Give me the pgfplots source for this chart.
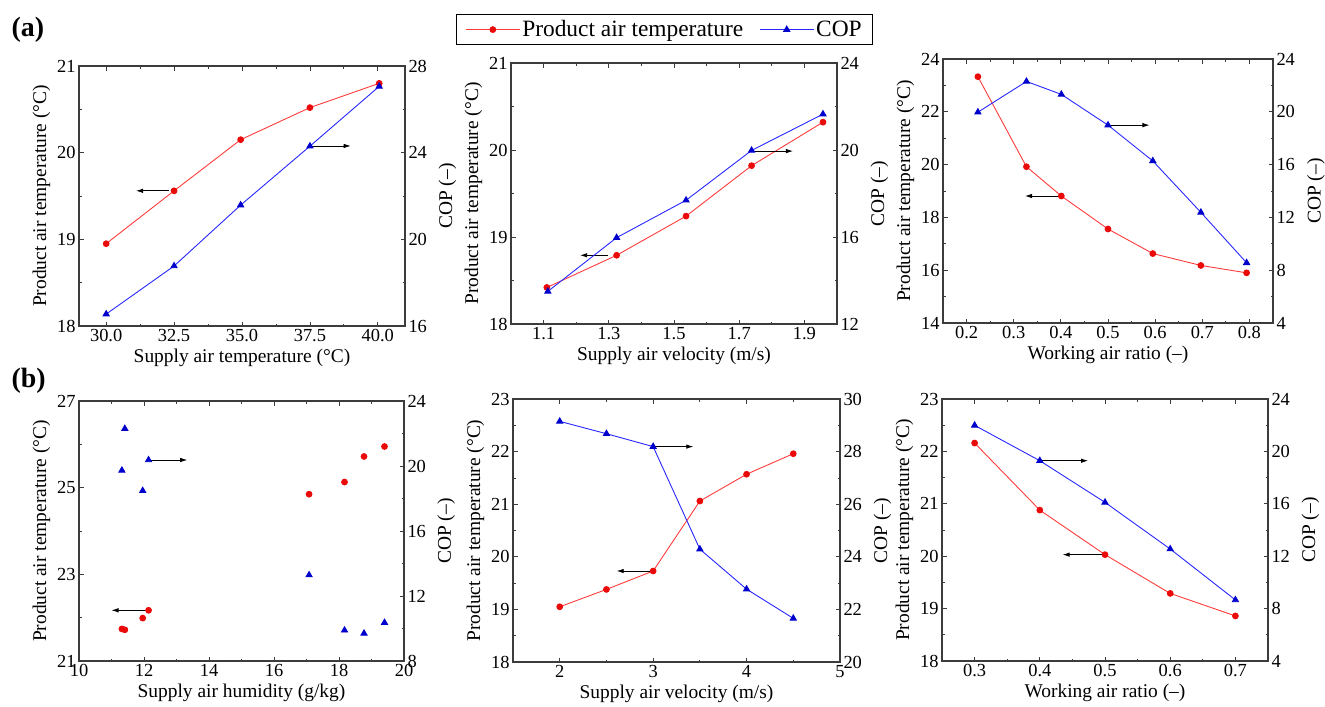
\documentclass[border=0pt]{standalone}
\usepackage{fontspec}
\setmainfont{Liberation Serif}
\usepackage{pgfplots}
\pgfplotsset{compat=1.18}
\usetikzlibrary{arrows.meta}
\definecolor{rline}{RGB}{255,60,60}
\definecolor{rmark}{RGB}{235,10,10}
\definecolor{bline}{RGB}{40,40,255}
\definecolor{bmark}{RGB}{0,0,205}
\definecolor{frame}{RGB}{60,60,60}
\tikzset{arr/.style={-{Latex[length=7bp,width=4.5bp]}, black, line width=0.8bp}}
\pgfplotsset{
 base/.style={scale only axis, clip=false,
   axis line style={line width=1.2bp, frame},
   tick style={frame, line width=0.8bp},
   major tick length=4.5bp, minor tick length=2.5bp, tick align=inside,
   tick label style={font=\fontsize{18.5}{20}\selectfont},
   label style={font=\fontsize{19.5}{21}\selectfont},
   /pgf/number format/assume math mode=true,
   minor x tick num=1, minor y tick num=1},
 lefty/.style={base, ytick pos=left, ylabel={Product air temperature (°C)}},
 righty/.style={base, xtick=\empty, minor x tick num=0, ytick pos=right, yticklabel pos=right, ylabel={COP (–)},
   every axis y label/.append style={at={(axis description cs:1.13,0.5)}, anchor=center, rotate=0}},
 tempplot/.style={color=rline, line width=0.9bp, mark=*, mark size=2.9bp, mark options={fill=rmark, draw=rmark, solid}},
 copplot/.style={color=bline, line width=0.9bp, mark=triangle*, mark size=3.5bp, mark options={fill=bmark, draw=bmark, solid}},
}
\begin{document}
\begin{tikzpicture}
\useasboundingbox (0,0) rectangle (1325bp,-707bp);
\node[anchor=west, font=\bfseries\fontsize{28}{30}\selectfont] at (8bp,-30bp) {(a)};
\node[anchor=west, font=\bfseries\fontsize{28}{30}\selectfont] at (8bp,-381bp) {(b)};

% ---------- a1 ----------
\begin{axis}[lefty, at={(79bp,-326bp)}, anchor=south west, width=326bp, height=260bp,
  xmin=29, xmax=41, xtick={30,32.5,35,37.5,40},
  xticklabel style={/pgf/number format/.cd, fixed, fixed zerofill, precision=1},
  ymin=18, ymax=21, ytick={18,19,20,21},
  xlabel={Supply air temperature (°C)}]
\addplot[tempplot] coordinates {(30,18.95) (32.5,19.56) (34.95,20.15) (37.5,20.52) (40.05,20.80)};
\draw[arr] (axis cs:32.3,19.56) -- (axis cs:31.1,19.56);
\end{axis}
\begin{axis}[righty, at={(79bp,-326bp)}, anchor=south west, width=326bp, height=260bp,
  xmin=29, xmax=41, ymin=16, ymax=28, ytick={16,20,24,28}]
\addplot[copplot] coordinates {(30,16.55) (32.5,18.77) (34.95,21.58) (37.5,24.30) (40.05,27.06)};
\draw[arr] (axis cs:37.5,24.31) -- (axis cs:39.0,24.31);
\end{axis}

% ---------- a2 ----------
\begin{axis}[lefty, at={(511bp,-324bp)}, anchor=south west, width=326bp, height=261bp,
  xmin=1, xmax=2, xtick={1.1,1.3,1.5,1.7,1.9},
  ymin=18, ymax=21, ytick={18,19,20,21},
  xlabel={Supply air velocity (m/s)},
  legend style={at={(0.471,1.128)}, anchor=center, legend columns=2, draw=black, line width=1.1bp,
    font=\fontsize{23.5}{25}\selectfont, inner xsep=9bp, inner ysep=4bp,
    /tikz/every even column/.append style={column sep=14bp}},
  legend image code/.code={\draw[mark repeat=2,mark phase=2,#1] plot coordinates {(0bp,0bp) (27bp,0bp) (54bp,0bp)};}]
\addlegendimage{tempplot}
\addlegendentry{Product air temperature}
\addlegendimage{copplot}
\addlegendentry{COP}
\addplot[tempplot, forget plot] coordinates {(1.11,18.42) (1.324,18.79) (1.537,19.24) (1.738,19.82) (1.957,20.32)};
\draw[arr] (axis cs:1.299,18.79) -- (axis cs:1.212,18.79);
\end{axis}
\begin{axis}[righty, at={(511bp,-324bp)}, anchor=south west, width=326bp, height=261bp,
  xmin=1, xmax=2, ymin=12, ymax=24, ytick={12,16,20,24}]
\addplot[copplot] coordinates {(1.113,13.50) (1.324,15.97) (1.537,17.69) (1.738,19.98) (1.957,21.65)};
\draw[arr] (axis cs:1.743,19.95) -- (axis cs:1.865,19.95);
\end{axis}

% ---------- a3 ----------
\begin{axis}[lefty, at={(943bp,-323bp)}, anchor=south west, width=330bp, height=264bp,
  xmin=0.15, xmax=0.85, xtick={0.2,0.3,0.4,0.5,0.6,0.7,0.8},
  ymin=14, ymax=24, ytick={14,16,18,20,22,24},
  xlabel={Working air ratio (–)}]
\addplot[tempplot] coordinates {(0.224,23.33) (0.327,19.92) (0.401,18.81) (0.50,17.56) (0.595,16.63) (0.697,16.18) (0.794,15.90)};
\draw[arr] (axis cs:0.398,18.81) -- (axis cs:0.324,18.81);
\end{axis}
\begin{axis}[righty, at={(943bp,-323bp)}, anchor=south west, width=330bp, height=264bp,
  xmin=0.15, xmax=0.85, ymin=4, ymax=24, ytick={4,8,12,16,20,24}]
\addplot[copplot] coordinates {(0.224,19.97) (0.327,22.30) (0.401,21.32) (0.50,18.99) (0.595,16.28) (0.697,12.38) (0.794,8.56)};
\draw[arr] (axis cs:0.503,18.99) -- (axis cs:0.588,18.99);
\end{axis}

% ---------- b1 ----------
\begin{axis}[lefty, at={(79bp,-661bp)}, anchor=south west, width=325bp, height=260bp,
  xmin=10, xmax=20, xtick={10,12,14,16,18,20},
  ymin=21, ymax=27, ytick={21,23,25,27},
  xlabel={Supply air humidity (g/kg)}]
\addplot[tempplot, only marks] coordinates {(11.32,21.74) (11.41,21.72) (11.96,21.99) (12.14,22.17) (17.08,24.85) (18.17,25.13) (18.77,25.72) (19.40,25.95)};
\draw[arr] (axis cs:12.08,22.17) -- (axis cs:11.0,22.17);
\end{axis}
\begin{axis}[righty, at={(79bp,-661bp)}, anchor=south west, width=325bp, height=260bp,
  xmin=10, xmax=20, ymin=8, ymax=24, ytick={8,12,16,20,24}]
\addplot[copplot, only marks] coordinates {(11.32,19.73) (11.41,22.30) (11.96,18.48) (12.14,20.37) (17.08,13.29) (18.17,9.89) (18.77,9.70) (19.40,10.36)};
\draw[arr] (axis cs:12.2,20.37) -- (axis cs:13.33,20.37);
\end{axis}

% ---------- b2 ----------
\begin{axis}[lefty, at={(513bp,-662bp)}, anchor=south west, width=327bp, height=263bp,
  xmin=1.5, xmax=5, xtick={2,3,4,5},
  ymin=18, ymax=23, ytick={18,19,20,21,22,23},
  xlabel={Supply air velocity (m/s)}]
\addplot[tempplot] coordinates {(2,19.05) (2.5,19.38) (3,19.73) (3.5,21.06) (4,21.57) (4.5,21.96)};
\draw[arr] (axis cs:2.984,19.73) -- (axis cs:2.61,19.73);
\end{axis}
\begin{axis}[righty, at={(513bp,-662bp)}, anchor=south west, width=327bp, height=263bp,
  xmin=1.5, xmax=5, ymin=20, ymax=30, ytick={20,22,24,26,28,30}]
\addplot[copplot] coordinates {(2,29.15) (2.5,28.68) (3,28.19) (3.5,24.29) (4,22.77) (4.5,21.66)};
\draw[arr] (axis cs:3.02,28.19) -- (axis cs:3.43,28.19);
\end{axis}

% ---------- b3 ----------
\begin{axis}[lefty, at={(942bp,-661bp)}, anchor=south west, width=326bp, height=262bp,
  xmin=0.25, xmax=0.75, xtick={0.3,0.4,0.5,0.6,0.7},
  ymin=18, ymax=23, ytick={18,19,20,21,22,23},
  xlabel={Working air ratio (–)}]
\addplot[tempplot] coordinates {(0.3,22.16) (0.4,20.88) (0.5,20.03) (0.6,19.29) (0.7,18.86)};
\draw[arr] (axis cs:0.496,20.03) -- (axis cs:0.435,20.03);
\end{axis}
\begin{axis}[righty, at={(942bp,-661bp)}, anchor=south west, width=326bp, height=262bp,
  xmin=0.25, xmax=0.75, ymin=4, ymax=24, ytick={4,8,12,16,20,24}]
\addplot[copplot] coordinates {(0.3,21.99) (0.4,19.29) (0.5,16.11) (0.6,12.55) (0.7,8.66)};
\draw[arr] (axis cs:0.404,19.29) -- (axis cs:0.474,19.29);
\end{axis}
\end{tikzpicture}
\end{document}
